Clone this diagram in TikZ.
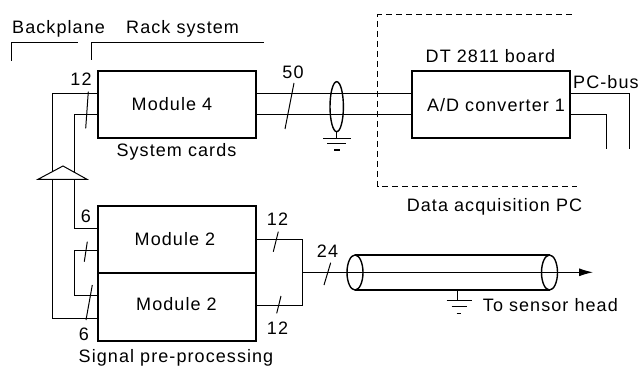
\documentclass[tikz,border=0pt]{standalone}
\usepackage{fontspec}
\setmainfont[LetterSpace=6]{Liberation Sans}
\usetikzlibrary{arrows.meta,calc}
\begin{document}
\begin{tikzpicture}[x=1pt,y=-1pt,
  every node/.style={font=\fontsize{18}{20}\selectfont, inner sep=0pt},
  box/.style={draw, line width=1.8pt, minimum width=158pt, inner sep=0pt},
  wire/.style={line width=1pt},
  slash/.style={line width=1pt},
  dashbox/.style={line width=1pt, dash pattern=on 6pt off 4pt},
  bracket/.style={line width=1pt},
  lbl/.style={anchor=base},
  lblw/.style={anchor=base west}]
\useasboundingbox (0,0) rectangle (639,366);

% boxes
\node[box, minimum height=67pt] (m4) at (177,104.5) {};
\node[box, minimum height=67pt] (m2t) at (177,239.5) {};
\node[box, minimum height=68pt] (m2b) at (177,307) {};
\node[box, minimum height=67pt] (ad) at (491,104.5) {};

% pins
\coordinate (m4wA) at ([yshift=11.2pt]m4.west);
\coordinate (m4wB) at ([yshift=-10.5pt]m4.west);
\coordinate (m4eA) at ([yshift=11.2pt]m4.east);
\coordinate (m4eB) at ([yshift=-10.5pt]m4.east);
\coordinate (adwA) at ([yshift=11.2pt]ad.west);
\coordinate (adwB) at ([yshift=-10.5pt]ad.west);
\coordinate (adeA) at ([yshift=11.2pt]ad.east);
\coordinate (adeB) at ([yshift=-10.5pt]ad.east);
\coordinate (m2twA) at ([yshift=11.2pt]m2t.west);
\coordinate (m2twB) at ([yshift=-11.2pt]m2t.west);
\coordinate (m2bwA) at ([yshift=11.7pt]m2b.west);
\coordinate (m2bwB) at ([yshift=-11pt]m2b.west);
\coordinate (m2te) at (m2t.east);
\coordinate (m2be) at ([yshift=1.3pt]m2b.east);

% bus coordinates
\coordinate (outerx) at (52,0);
\coordinate (innerx) at (74,0);
\coordinate (loopx) at (302,0);
\coordinate (pcA) at (629.3,149);
\coordinate (pcB) at (606.7,149);
\coordinate (tip) at (593,272.3);

% texts
\node[lblw] (tbp) at (12,33.3) {Backplane};
\node[lblw] (trs) at (126,33.3) {Rack system};
\node[lbl] (t12a) at (81,86) {12};
\node[lbl] (tm4) at (172,111) {Module 4};
\node[lbl] (tsc) at (176.5,157) {System cards};
\node[lbl] (t50) at (293,79) {50};
\node[lbl] (tdt) at (490.5,63) {DT 2811 board};
\node[lbl] (tad) at (496,111.7) {A/D converter 1};
\node[lblw] (tpc) at (573,88.5) {PC-bus};
\node[lbl] (tdaq) at (494.5,211) {Data acquisition PC};
\node[lbl] (tm2a) at (175,245) {Module 2};
\node[lbl] (tm2b) at (176.5,310) {Module 2};
\node[lbl] (t6a) at (86,222.7) {6};
\node[lbl] (t6b) at (84,340) {6};
\node[lbl] (t12b) at (277.5,225) {12};
\node[lbl] (t12c) at (277.5,334) {12};
\node[lbl] (tspp) at (176,362.5) {Signal pre-processing};
\node[lbl] (t24) at (327.5,257) {24};
\node[lblw] (tsh) at (482.7,311) {To sensor head};

% brackets
\draw[bracket] (11.7,61) -- (11.7,43) -- (78,43);
\draw[bracket] (91,60) -- (91,43) -- (264,43);

% dashed PC outline
\draw[dashbox] (571.7,15) -- (377.7,15) -- (377.7,186.7) -- (576.7,186.7);

% backplane wiring
\draw[wire] (m4wA) -| (outerx |- m2bwB) -- (m2bwB);
\draw[wire] (m4wB) -| (innerx |- m2twA) -- (m2twA);
\draw[wire] (m2twB) -| (innerx |- m2bwA) -- (m2bwA);
% buffer triangle
\draw[wire, fill=white] (63,166) -- (87,179.3) -- (38,179.3) -- cycle;

% module 4 to A/D
\draw[wire] (m4eA) -- (adwA);
\draw[wire] (m4eB) -- (adwB);
% PC bus
\draw[wire] (adeA) -| (pcA);
\draw[wire] (adeB) -| (pcB);

% shield and ground
\draw[line width=1.4pt] (336.7,106.7) ellipse [x radius=6.7, y radius=25];
\draw[wire] (336.7,131.7) -- (336.7,138.3);
\draw[wire] (323.3,138.3) -- (350.7,138.3);
\draw[wire] (327.3,144) -- (346,144);
\draw[line width=1.6pt] (334,150) -- (340,150);

% right loop of modules 2
\draw[wire] (m2te) -| (loopx |- m2be) -- (m2be);
\coordinate (junc) at (loopx |- tip);
\draw[wire, -{Latex[length=14pt,width=8pt]}] (junc) -- (tip);

% cable
\draw[line width=1.4pt] (355,272.5) ellipse [x radius=8, y radius=17.5];
\draw[line width=1.4pt] (549.5,272.5) ellipse [x radius=8, y radius=17.5];
\draw[line width=1.4pt] (355,255) -- (549.5,255);
\draw[line width=1.4pt] (355,290) -- (549.5,290);
\draw[wire] (457,290) -- (457,300.7);
\draw[wire] (446.7,300.7) -- (471.7,300.7);
\draw[wire] (451.7,306.7) -- (466.7,306.7);
\draw[line width=1.6pt] (456.5,313.3) -- (460.9,313.3);

% bus-width slashes
\draw[slash] (85.7,128.3) -- (88.3,91.7);
\draw[slash] (285,129) -- (294,83);
\draw[slash] (84.3,261.7) -- (87.3,241.7);
\draw[slash] (86,320) -- (92.3,285);
\draw[slash] (273.3,251.7) -- (278.3,231.7);
\draw[slash] (276.7,313.3) -- (281,296);
\draw[slash] (324,285) -- (330.7,262.7);
\end{tikzpicture}
\end{document}
